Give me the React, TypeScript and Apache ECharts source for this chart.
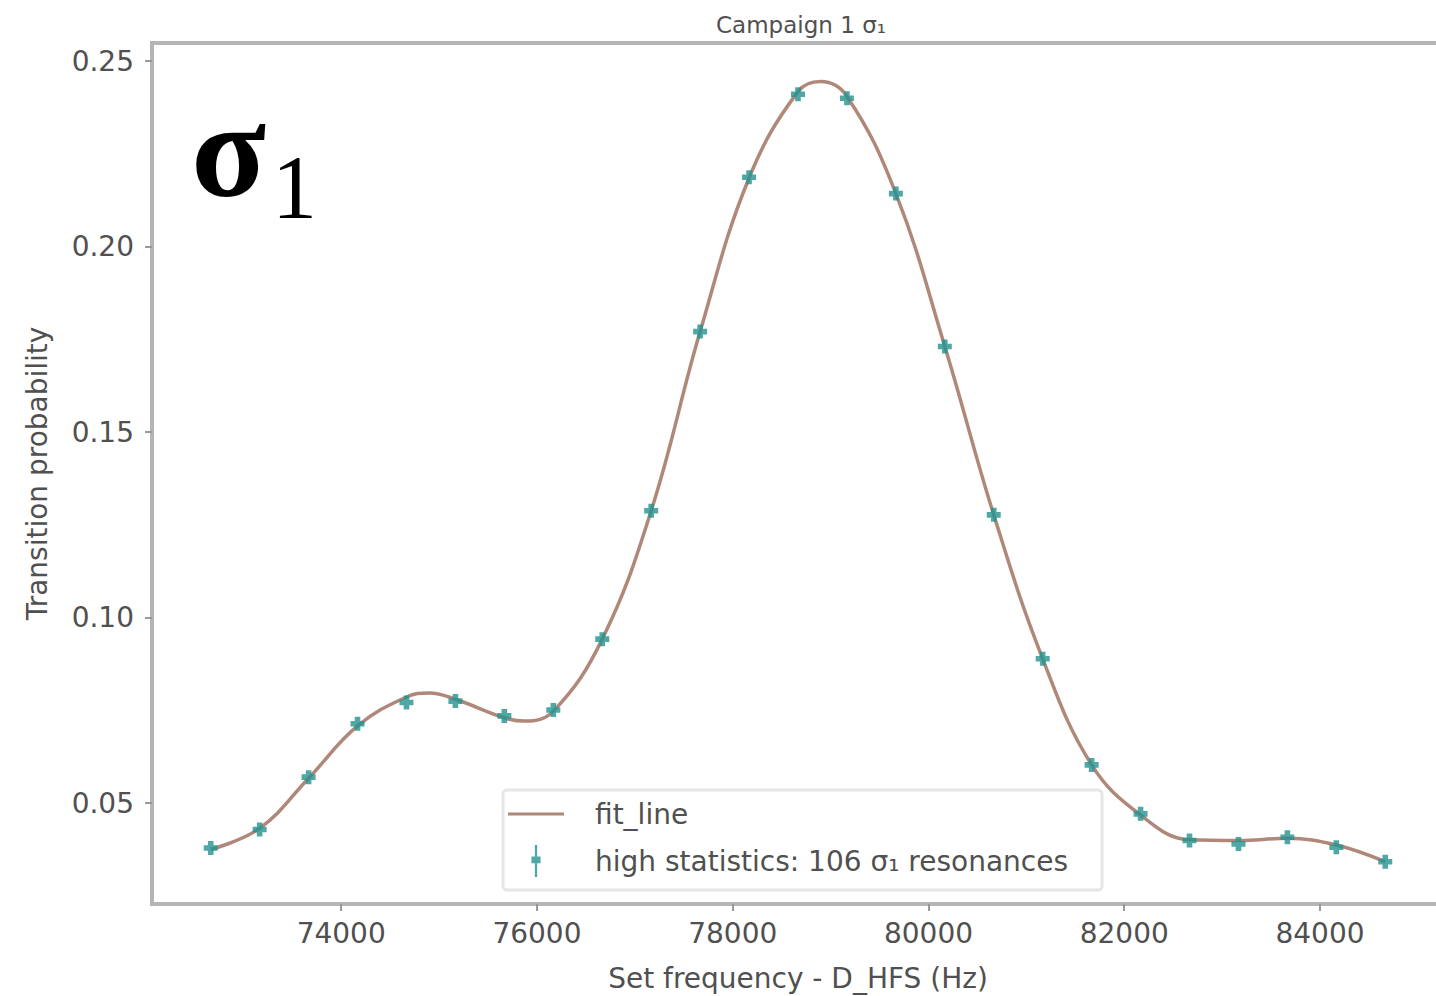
import React, { useEffect, useRef } from "react";
import * as echarts from "echarts";

const pointX = [
  72667, 73167, 73667, 74167, 74667, 75167, 75667, 76167, 76667, 77167, 77667, 78167, 78667,
  79167, 79667, 80167, 80667, 81167, 81667, 82167, 82667, 83167, 83667, 84167, 84667,
];
const pointY = [
  0.0379, 0.0429, 0.057, 0.0714, 0.0771, 0.0775, 0.0735, 0.0751, 0.0942, 0.1288, 0.1771, 0.2187,
  0.2411, 0.24, 0.2143, 0.1731, 0.1277, 0.0889, 0.0603, 0.0471, 0.0399, 0.039, 0.0408, 0.0381,
  0.0342,
];

const fitX = [
  72667, 73167, 73667, 74167, 74667, 74900, 75167, 75667, 75870, 76167, 76667, 77167, 77667,
  78167, 78667, 78900, 79167, 79667, 80167, 80667, 81167, 81667, 82167, 82667, 83167, 83667,
  84167, 84667,
];
const fitY = [
  0.0375, 0.0432, 0.0567, 0.0708, 0.0786, 0.0797, 0.078, 0.073, 0.0721, 0.0748, 0.0942, 0.1288,
  0.1771, 0.2185, 0.2418, 0.2445, 0.2405, 0.2143, 0.1731, 0.1277, 0.0889, 0.0603, 0.0468, 0.0401,
  0.0399, 0.0405, 0.0387, 0.0342,
];

const xTicks = [74000, 76000, 78000, 80000, 82000, 84000];
const yTicks = [0.05, 0.1, 0.15, 0.2, 0.25];

const FONT = "DejaVu Sans";
const TEXT = "#505050";
const LINE_COLOR = "#b0887a";
const POINT_COLOR = "#23928f";

export default function App() {
  const ref = useRef<HTMLDivElement>(null);
  useEffect(() => {
    if (!ref.current) return;
    const chart = echarts.init(ref.current, undefined, { renderer: "svg" });
    const plus = "path://M3,0h4v3h3v4h-3v3h-4v-3h-3v-4h3z";
    const errIcon = "path://M6,0h2v10h3v6h-3v12h-2v-12h-3v-6h3z";
    const lineIcon = "path://M0,0h56v3h-56z";
    chart.setOption({
      animation: false,
      backgroundColor: "#ffffff",
      textStyle: { fontFamily: FONT },
      grid: {
        left: 152,
        top: 43,
        width: 1292,
        height: 861,
        outerBoundsMode: "none",
        containLabel: false,
        show: true,
        borderColor: "#b5b5b5",
        borderWidth: 4,
        backgroundColor: "transparent",
      },
      xAxis: {
        type: "value",
        min: 72067,
        max: 85267,
        name: "Set frequency - D_HFS (Hz)",
        nameLocation: "middle",
        nameGap: 60,
        nameTextStyle: { fontSize: 28, lineHeight: 28, color: TEXT, fontFamily: FONT },
        axisLine: { show: false },
        splitLine: { show: false },
        axisTick: {
          show: true,
          length: 7,
          customValues: xTicks,
          lineStyle: { color: "#999999", width: 2 },
        },
        axisLabel: {
          customValues: xTicks,
          margin: 15,
          fontSize: 28,
          color: TEXT,
          fontFamily: FONT,
          formatter: (v: number) => String(v),
        },
      },
      yAxis: {
        type: "value",
        min: 0.0228,
        max: 0.2549,
        name: "Transition probability",
        nameLocation: "middle",
        nameGap: 101,
        nameTextStyle: { fontSize: 28, color: TEXT, fontFamily: FONT },
        axisLine: { show: false },
        splitLine: { show: false },
        axisTick: {
          show: true,
          length: 7,
          customValues: yTicks,
          lineStyle: { color: "#999999", width: 2 },
        },
        axisLabel: {
          customValues: yTicks,
          margin: 18,
          fontSize: 28,
          color: TEXT,
          fontFamily: FONT,
          formatter: (v: number) => v.toFixed(2),
        },
      },
      legend: {
        left: 503,
        top: 790,
        orient: "vertical",
        itemWidth: 56,
        itemHeight: 32,
        itemGap: 17,
        padding: [10, 34, 13, 5],
        borderColor: "#e6e6e6",
        borderWidth: 3,
        borderRadius: 4,
        backgroundColor: "#ffffff",
        textStyle: { fontSize: 28, color: TEXT, fontFamily: FONT, padding: [0, 0, 0, 26] },
        data: [
          { name: "fit_line", icon: lineIcon },
          { name: "high statistics: 106 σ₁ resonances", icon: errIcon },
        ],
      },
      graphic: [
        {
          type: "text",
          x: 801,
          y: 25,
          style: {
            text: "Campaign 1 σ₁",
            fontSize: 23,
            fontFamily: FONT,
            fill: TEXT,
            align: "center",
            verticalAlign: "middle",
          },
        },
        {
          type: "text",
          x: 191,
          y: 80,
          z: 10,
          style: {
            text: "σ",
            fontSize: 138,
            fontWeight: "bold",
            fontFamily: "Liberation Serif",
            fill: "#000000",
            align: "left",
            verticalAlign: "top",
          },
        },
        {
          type: "text",
          x: 272,
          y: 142,
          z: 10,
          style: {
            text: "1",
            fontSize: 90,
            fontFamily: "Liberation Serif",
            fill: "#000000",
            align: "left",
            verticalAlign: "top",
          },
        },
      ],
      series: [
        {
          name: "fit_line",
          type: "line",
          data: fitX.map((x, i) => [x, fitY[i]]),
          smooth: 0.4,
          symbol: "none",
          showSymbol: false,
          lineStyle: { color: LINE_COLOR, width: 3.5 },
          itemStyle: { color: LINE_COLOR },
          z: 2,
        },
        {
          name: "high statistics: 106 σ₁ resonances",
          type: "scatter",
          data: pointX.map((x, i) => [x, pointY[i]]),
          symbol: plus,
          symbolSize: 14,
          itemStyle: { color: POINT_COLOR },
          z: 3,
        },
      ],
    });
    return () => chart.dispose();
  }, []);
  return (
    <div
      ref={ref}
      style={{ position: "fixed", left: 0, top: 0, width: 1436, height: 996, background: "#fff" }}
    />
  );
}
